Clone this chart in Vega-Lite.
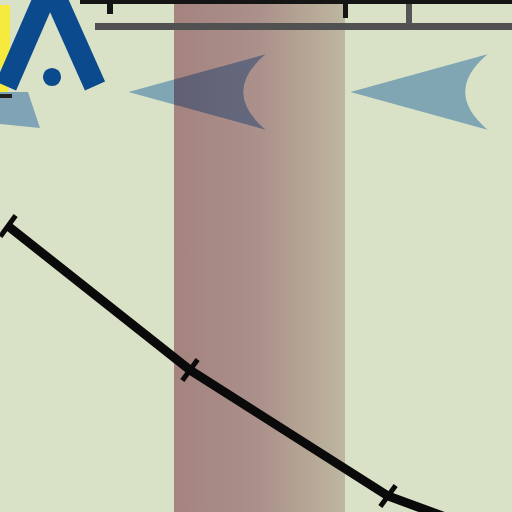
{
  "$schema": "https://vega.github.io/schema/vega-lite/v6.json",
  "width": 512,
  "height": 512,
  "autosize": {"type": "none"},
  "padding": 0,
  "background": "#d9e2c6",
  "config": {"view": {"stroke": null}},
  "encoding": {
    "x": {"field": "x", "type": "quantitative", "scale": {"domain": [0, 512], "nice": false, "zero": false}, "axis": null},
    "y": {"field": "y", "type": "quantitative", "scale": {"domain": [0, 512], "nice": false, "zero": false, "reverse": true}, "axis": null}
  },
  "layer": [
    {
      "data": {"values": [{"x": 174, "x2": 345, "y": 0, "y2": 512}]},
      "mark": {"type": "rect", "color": {"gradient": "linear", "x1": 0, "x2": 1, "y1": 0, "y2": 0, "stops": [
        {"offset": 0, "color": "#a5837f"},
        {"offset": 0.5, "color": "#ab908b"},
        {"offset": 0.75, "color": "#b5a493"},
        {"offset": 1, "color": "#bdb7a1"}
      ]}},
      "encoding": {"x2": {"field": "x2"}, "y2": {"field": "y2"}}
    },
    {
      "data": {"values": [{"x": 80, "x2": 512, "y": 0, "y2": 4}]},
      "mark": {"type": "rect", "color": "#151515"},
      "encoding": {"x2": {"field": "x2"}, "y2": {"field": "y2"}}
    },
    {
      "data": {"values": [{"x": 95, "x2": 512, "y": 23, "y2": 30}]},
      "mark": {"type": "rect", "color": "#515151"},
      "encoding": {"x2": {"field": "x2"}, "y2": {"field": "y2"}}
    },
    {
      "data": {"values": [
        {"x": 107, "x2": 113, "y": 0, "y2": 14},
        {"x": 343, "x2": 348, "y": 0, "y2": 18}
      ]},
      "mark": {"type": "rect", "color": "#151515"},
      "encoding": {"x2": {"field": "x2"}, "y2": {"field": "y2"}}
    },
    {
      "data": {"values": [{"x": 406, "x2": 412, "y": 4, "y2": 25}]},
      "mark": {"type": "rect", "color": "#555555"},
      "encoding": {"x2": {"field": "x2"}, "y2": {"field": "y2"}}
    },
    {
      "data": {"values": [{"x": 197, "y": 92}, {"x": 419, "y": 92}]},
      "mark": {"type": "point", "shape": "M-1,0L1,-0.55Q0.35,0 1,0.55Z", "size": 18769, "filled": true, "fill": "#96bae7", "opacity": 1, "strokeWidth": 0, "blend": "multiply"}
    },
    {
      "data": {"values": [{"x": 20, "y": 110}]},
      "mark": {"type": "point", "shape": "M-1,-0.9L0.4,-0.9L1,0.9L-1,0.7Z", "size": 1600, "filled": true, "fill": "#80a4b6", "opacity": 1, "strokeWidth": 0}
    },
    {
      "data": {"values": [{"x": 8, "y": 226}, {"x": 190, "y": 370}, {"x": 388, "y": 496}, {"x": 590, "y": 570}]},
      "mark": {"type": "line", "color": "#0a0a0a", "strokeWidth": 9, "clip": true}
    },
    {
      "data": {"values": [{"x": 8, "y": 226}, {"x": 190, "y": 370}, {"x": 388, "y": 496}]},
      "mark": {"type": "point", "shape": "M0,-1L0,1", "size": 676, "filled": false, "stroke": "#0a0a0a", "strokeWidth": 5, "opacity": 1, "angle": 36}
    },
    {
      "data": {"values": [
        {"x": 0, "x2": 10, "y": 5, "y2": 68},
        {"x": 0, "x2": 8, "y": 84, "y2": 92}
      ]},
      "mark": {"type": "rect", "color": "#f6ea3e"},
      "encoding": {"x2": {"field": "x2"}, "y2": {"field": "y2"}}
    },
    {
      "data": {"values": [{"x": 0, "x2": 12, "y": 94, "y2": 98}]},
      "mark": {"type": "rect", "color": "#222222"},
      "encoding": {"x2": {"field": "x2"}, "y2": {"field": "y2"}}
    },
    {
      "data": {"values": [
        {"x": 46, "y": -6, "x2": 6, "y2": 86},
        {"x": 54, "y": -6, "x2": 95, "y2": 86}
      ]},
      "mark": {"type": "rule", "color": "#0b4a8c", "strokeWidth": 22, "strokeCap": "butt", "clip": true},
      "encoding": {"x2": {"field": "x2"}, "y2": {"field": "y2"}}
    },
    {
      "data": {"values": [{"x": 52, "y": 77}]},
      "mark": {"type": "point", "shape": "circle", "size": 330, "filled": true, "fill": "#0b4a8c", "opacity": 1, "strokeWidth": 0}
    }
  ]
}
